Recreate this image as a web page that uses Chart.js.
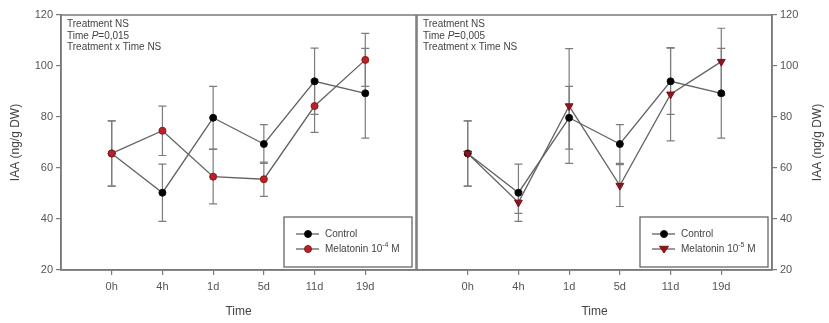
<!DOCTYPE html>
<html>
<head>
<meta charset="utf-8">
<script src="https://cdn.jsdelivr.net/npm/chart.js@4.4.0/dist/chart.umd.min.js"></script>
<style>
  body { margin: 0; background: #fff; }
  #wrap { position: relative; width: 829px; height: 323px; }
  canvas { position: absolute; top: 0; }
  #leftChart { left: 0; }
  #rightChart { left: 416px; }
</style>
</head>
<body>
<div id="wrap">
  <canvas id="leftChart" width="418" height="323"></canvas>
  <canvas id="rightChart" width="413" height="323"></canvas>
</div>
<script>
const times = ['0h', '4h', '1d', '5d', '11d', '19d'];
const yTicks = [20, 40, 60, 80, 100, 120];

// IAA means and error (ng/g DW)
const control = [65.7, 50.3, 79.7, 69.4, 94.0, 89.3];
const controlErr = [12.8, 11.2, 12.3, 7.6, 13.0, 17.6];

const melatonin4 = [65.7, 74.6, 56.6, 55.6, 84.3, 102.4];
const melatonin4Err = [12.8, 9.7, 10.7, 6.7, 10.3, 10.4];

const melatonin5 = [65.7, 46.5, 84.3, 53.1, 88.9, 101.7];
const melatonin5Err = [12.8, 4.3, 22.5, 8.2, 18.3, 13.1];

const FONT = "'Liberation Sans', Arial, sans-serif";
const AXIS = '#7a7a7a';
const TEXT = '#444';

const toPoints = vals => vals.map((v, i) => ({ x: i, y: v }));

const errorBars = {
    id: 'errorBars',
    beforeDatasetsDraw(chart) {
        const { ctx, scales: { x, y } } = chart;
        ctx.save();
        ctx.strokeStyle = '#7d7d7d';
        ctx.lineWidth = 1.2;
        chart.data.datasets.forEach(ds => {
            ds.data.forEach((p, i) => {
                const px = x.getPixelForValue(p.x);
                const top = y.getPixelForValue(p.y + ds.err[i]);
                const bot = y.getPixelForValue(p.y - ds.err[i]);
                ctx.beginPath();
                ctx.moveTo(px, top); ctx.lineTo(px, bot);
                ctx.moveTo(px - 4, top); ctx.lineTo(px + 4, top);
                ctx.moveTo(px - 4, bot); ctx.lineTo(px + 4, bot);
                ctx.stroke();
            });
        });
        ctx.restore();
    }
};

function drawMarker(ctx, ds, x, y) {
    ctx.fillStyle = ds.pointBackgroundColor;
    ctx.strokeStyle = ds.pointBorderColor;
    ctx.lineWidth = 1;
    ctx.beginPath();
    if (ds.pointStyle === 'triangle') {
        const r = ds.pointRadius;
        ctx.moveTo(x - r, y - r * 0.6);
        ctx.lineTo(x + r, y - r * 0.6);
        ctx.lineTo(x, y + r * 0.9);
        ctx.closePath();
    } else {
        ctx.arc(x, y, ds.pointRadius, 0, Math.PI * 2);
    }
    ctx.fill();
    ctx.stroke();
}

// frame, stats note, legend box and optional right-hand title
const decorations = {
    id: 'decorations',
    afterDraw(chart, args, opts) {
        const { ctx, chartArea: a } = chart;
        ctx.save();
        ctx.strokeStyle = AXIS;
        ctx.lineWidth = 1.5;
        ctx.strokeRect(a.left, a.top, a.right - a.left, a.bottom - a.top);

        // stats note
        ctx.fillStyle = TEXT;
        ctx.textBaseline = 'middle';
        ctx.textAlign = 'left';
        ctx.font = '10px ' + FONT;
        const tx = a.left + 6;
        ctx.fillText('Treatment NS', tx, a.top + 9);
        let w = ctx.measureText('Time ').width;
        ctx.fillText('Time ', tx, a.top + 21);
        ctx.font = 'italic 10px ' + FONT;
        ctx.fillText('P', tx + w, a.top + 21);
        w += ctx.measureText('P').width;
        ctx.font = '10px ' + FONT;
        ctx.fillText('=' + opts.pValue, tx + w, a.top + 21);
        ctx.fillText('Treatment x Time NS', tx, a.top + 32);

        // legend
        const bw = 128, bh = 50;
        const bx = a.right - 4 - bw, by = a.bottom - 3 - bh;
        ctx.fillStyle = '#fff';
        ctx.fillRect(bx, by, bw, bh);
        ctx.strokeStyle = '#666';
        ctx.lineWidth = 1.3;
        ctx.strokeRect(bx, by, bw, bh);
        chart.data.datasets.forEach((ds, i) => {
            const ry = by + 17 + i * 15;
            ctx.strokeStyle = ds.borderColor;
            ctx.lineWidth = ds.borderWidth;
            ctx.beginPath();
            ctx.moveTo(bx + 12, ry);
            ctx.lineTo(bx + 35, ry);
            ctx.stroke();
            drawMarker(ctx, ds, bx + 24, ry);
            ctx.fillStyle = TEXT;
            ctx.font = '10px ' + FONT;
            let lx = bx + 41;
            ctx.fillText(ds.labelMain, lx, ry);
            if (ds.labelExp) {
                lx += ctx.measureText(ds.labelMain).width;
                ctx.font = '7px ' + FONT;
                ctx.fillText(ds.labelExp, lx, ry - 4);
                lx += ctx.measureText(ds.labelExp).width;
                ctx.font = '10px ' + FONT;
                ctx.fillText(' M', lx, ry);
            }
        });

        if (opts.rightTitle) {
            ctx.translate(chart.width - 11, (a.top + a.bottom) / 2);
            ctx.rotate(-Math.PI / 2);
            ctx.textAlign = 'center';
            ctx.font = '12px ' + FONT;
            ctx.fillStyle = TEXT;
            ctx.fillText('IAA (ng/g DW)', 0, 0);
        }
        ctx.restore();
    }
};

function makeChart(id, melVals, melErr, melExp, melStyle, pValue, side) {
    const controlSet = {
        label: 'Control',
        labelMain: 'Control',
        data: toPoints(control),
        err: controlErr,
        borderColor: '#626262',
        borderWidth: 1.3,
        pointRadius: 3.5,
        pointBackgroundColor: '#000',
        pointBorderColor: '#111',
        pointBorderWidth: 1,
        order: 1
    };
    const melSet = {
        label: 'Melatonin 10' + melExp + ' M',
        labelMain: 'Melatonin 10',
        labelExp: melExp,
        data: toPoints(melVals),
        err: melErr,
        borderColor: '#626262',
        borderWidth: 1.3,
        pointStyle: melStyle,
        pointRotation: melStyle === 'triangle' ? 180 : 0,
        pointRadius: melStyle === 'triangle' ? 4.5 : 3.5,
        pointBackgroundColor: melStyle === 'triangle' ? '#8c1520' : '#b82228',
        pointBorderColor: melStyle === 'triangle' ? '#7a1018' : '#8a1a1a',
        pointBorderWidth: 1,
        order: 0
    };
    const isLeft = side === 'left';
    return new Chart(document.getElementById(id).getContext('2d'), {
        type: 'line',
        data: { datasets: [controlSet, melSet] },
        plugins: [errorBars, decorations],
        options: {
            responsive: false,
            animation: false,
            layout: {
                autoPadding: false,
                padding: isLeft ? { top: 15, right: 2, left: 0, bottom: 0 } : { top: 15, right: 0, left: 1, bottom: 0 }
            },
            plugins: {
                legend: { display: false },
                tooltip: { enabled: false },
                decorations: { pValue: pValue, rightTitle: !isLeft }
            },
            scales: {
                x: {
                    type: 'linear',
                    min: -1,
                    max: 6,
                    afterBuildTicks: s => { s.ticks = times.map((t, i) => ({ value: i })); },
                    afterFit: s => { s.height = 53; },
                    ticks: { callback: v => times[v], color: '#555', font: { family: FONT, size: 11 }, padding: 5, maxRotation: 0, autoSkip: false },
                    grid: { drawOnChartArea: false, tickLength: 5, color: AXIS, lineWidth: 1.2 },
                    border: { color: AXIS, width: 1.5 },
                    title: { display: true, text: 'Time', color: TEXT, font: { family: FONT, size: 12 }, padding: { top: 0, bottom: 4 } }
                },
                y: {
                    position: side,
                    min: 20,
                    max: 120,
                    afterBuildTicks: s => { s.ticks = yTicks.map(v => ({ value: v })); },
                    afterFit: s => { s.width = isLeft ? 61 : 57; },
                    ticks: { color: '#555', font: { family: FONT, size: 11 }, padding: 3 },
                    grid: { drawOnChartArea: false, tickLength: 5, color: AXIS, lineWidth: 1.2 },
                    border: { color: AXIS, width: 1.5 },
                    title: { display: isLeft, text: 'IAA (ng/g DW)', color: TEXT, font: { family: FONT, size: 12 }, padding: { top: 8, bottom: 0 } }
                }
            }
        }
    });
}

makeChart('leftChart', melatonin4, melatonin4Err, '-4', 'circle', '0,015', 'left');
makeChart('rightChart', melatonin5, melatonin5Err, '-5', 'triangle', '0,005', 'right');
</script>
</body>
</html>
